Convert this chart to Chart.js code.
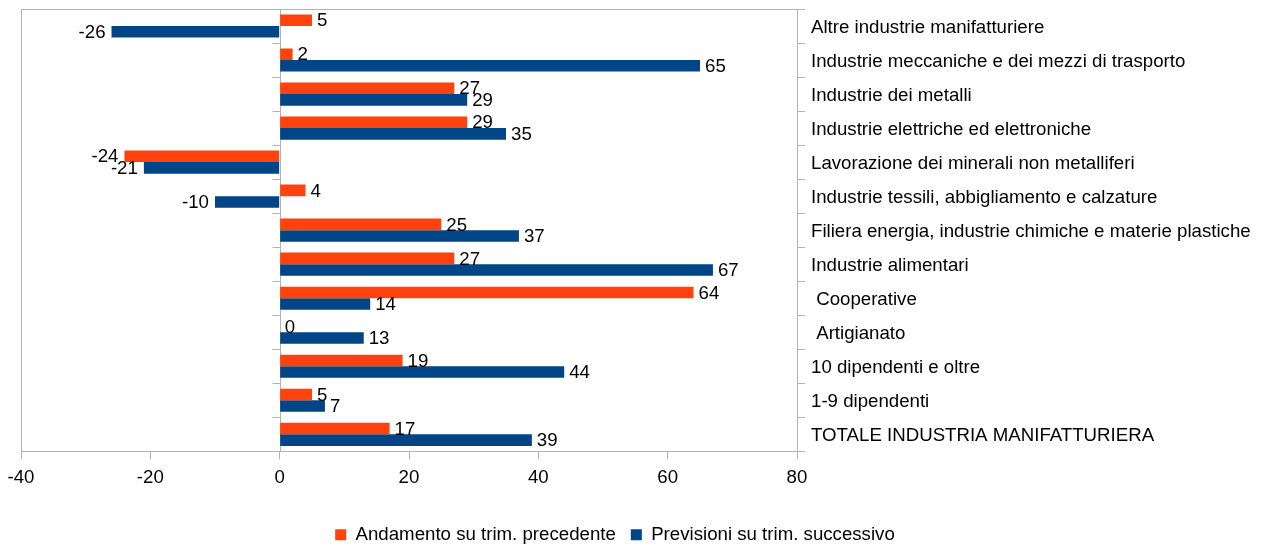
<!DOCTYPE html>
<html>
<head>
<meta charset="utf-8">
<script src="https://cdn.jsdelivr.net/npm/chart.js@4/dist/chart.umd.min.js"></script>
<style>
  html, body { margin: 0; padding: 0; background: #fff; }
  canvas { display: block; }
</style>
</head>
<body>
<canvas id="chart" width="1267" height="545"></canvas>
<script>
// Settori e classi d'impresa, dall'alto verso il basso
const categories = [
  "Altre industrie manifatturiere",
  "Industrie meccaniche e dei mezzi di trasporto",
  "Industrie dei metalli",
  "Industrie elettriche ed elettroniche",
  "Lavorazione dei minerali non metalliferi",
  "Industrie tessili, abbigliamento e calzature",
  "Filiera energia, industrie chimiche e materie plastiche",
  "Industrie alimentari",
  " Cooperative",
  " Artigianato",
  "10 dipendenti e oltre",
  "1-9 dipendenti",
  "TOTALE INDUSTRIA MANIFATTURIERA"
];

const seriesNames = ["Andamento su trim. precedente", "Previsioni su trim. successivo"];

// Saldi percentuali
const andamento  = [5, 2, 27, 29, -24, 4, 25, 27, 64, 0, 19, 5, 17];
const previsioni = [-26, 65, 29, 35, -21, -10, 37, 67, 14, 13, 44, 7, 39];

const xTicks = [-40, -20, 0, 20, 40, 60, 80];

const FONT = "'Liberation Sans', Arial, sans-serif";
const SIZE = 18.67;
const TEXT = '#000000';
const LINE = '#b3b3b3';
const ORANGE = '#ff420e';
const BLUE = '#004586';

// Cornice dell'area del grafico, linea dello zero con le sue tacche
const framePlugin = {
  id: 'frame',
  beforeDatasetsDraw(chart) {
    const { ctx, chartArea: a, scales: { x, y } } = chart;
    const px = v => Math.round(v) + 0.5;
    const x0 = px(x.getPixelForValue(0));
    ctx.save();
    ctx.strokeStyle = LINE;
    ctx.lineWidth = 1;
    ctx.beginPath();
    ctx.moveTo(px(a.left), a.top);
    ctx.lineTo(px(a.left), a.bottom);
    ctx.moveTo(a.left, px(a.top));
    ctx.lineTo(a.right, px(a.top));
    ctx.moveTo(x0, a.top);
    ctx.lineTo(x0, a.bottom);
    for (let i = 1; i < categories.length; i++) {
      const yb = px((y.getPixelForValue(i - 1) + y.getPixelForValue(i)) / 2);
      ctx.moveTo(x0 - 8, yb);
      ctx.lineTo(x0, yb);
    }
    ctx.stroke();
    ctx.restore();
  }
};

// Etichette con il valore accanto all'estremità di ogni barra
const valueLabelPlugin = {
  id: 'valueLabels',
  afterDatasetsDraw(chart) {
    const ctx = chart.ctx;
    ctx.save();
    ctx.font = SIZE + 'px ' + FONT;
    ctx.fillStyle = TEXT;
    ctx.textBaseline = 'middle';
    chart.data.datasets.forEach((ds, di) => {
      chart.getDatasetMeta(di).data.forEach((bar, i) => {
        const v = ds.data[i];
        const ty = bar.y + 1;
        if (v < 0) {
          ctx.textAlign = 'right';
          ctx.fillText(String(v), bar.x - 6, ty);
        } else {
          ctx.textAlign = 'left';
          ctx.fillText(String(v), bar.x + 5, ty);
        }
      });
    });
    ctx.restore();
  }
};

// Sposta la legenda un po' più in basso e a sinistra
const legendOffsetPlugin = {
  id: 'legendOffset',
  afterLayout(chart) {
    const lg = chart.legend;
    if (!lg) return;
    lg.top += 9; lg.bottom += 9;
    lg.left -= 29; lg.right -= 29;
  }
};

new Chart(document.getElementById('chart'), {
  type: 'bar',
  data: {
    labels: categories,
    datasets: [
      { label: seriesNames[0], data: andamento, backgroundColor: ORANGE, borderWidth: 0,
        categoryPercentage: 0.68, barPercentage: 1.0 },
      { label: seriesNames[1], data: previsioni, backgroundColor: BLUE, borderWidth: 0,
        categoryPercentage: 0.68, barPercentage: 1.0 }
    ]
  },
  options: {
    indexAxis: 'y',
    responsive: false,
    animation: false,
    layout: { padding: { left: 21, top: 9, right: 0, bottom: 0 } },
    plugins: {
      legend: {
        position: 'bottom',
        labels: {
          boxWidth: 11, boxHeight: 11, padding: 15, color: TEXT,
          font: { family: FONT, size: SIZE }
        }
      },
      tooltip: { enabled: false }
    },
    scales: {
      x: {
        min: xTicks[0],
        max: xTicks[xTicks.length - 1],
        ticks: { stepSize: xTicks[1] - xTicks[0], color: TEXT, font: { family: FONT, size: SIZE }, padding: 7 },
        grid: { drawOnChartArea: false, tickLength: 8, tickColor: LINE, color: LINE },
        border: { color: LINE },
        afterFit(scale) { scale.height = 50; }
      },
      y: {
        position: 'right',
        ticks: { color: TEXT, font: { family: FONT, size: SIZE }, padding: 6, autoSkip: false, labelOffset: 1.5 },
        grid: { offset: true, drawOnChartArea: false, tickLength: 8, tickColor: LINE, color: LINE },
        border: { color: LINE },
        afterFit(scale) {
          scale.width = 470;
          scale.paddingTop = 0;
          scale.paddingBottom = 0;
        }
      }
    }
  },
  plugins: [framePlugin, valueLabelPlugin, legendOffsetPlugin]
});
</script>
</body>
</html>
